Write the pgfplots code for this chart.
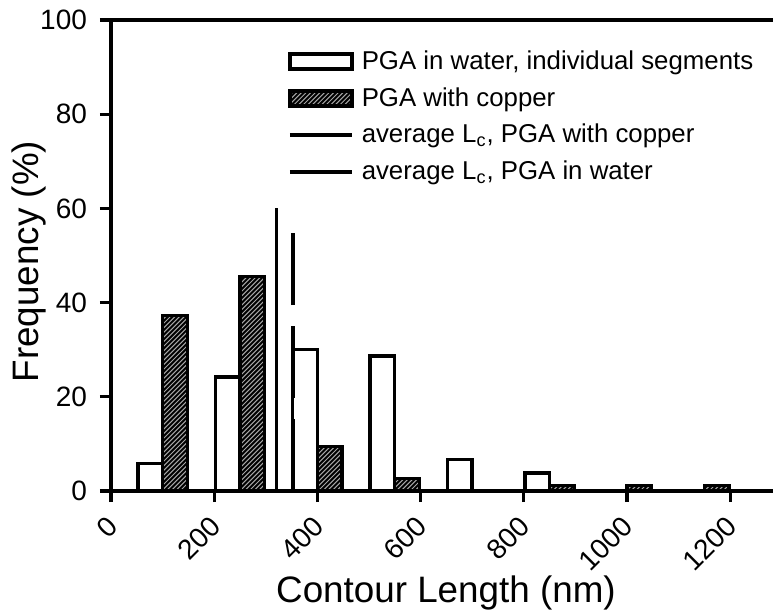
\documentclass[border=0pt]{standalone}
\usepackage{pgfplots}
\pgfplotsset{compat=1.18}
\usepackage{fontspec}
\setmainfont{Liberation Sans}

\tikzset{
  % diagonal hatching over the lower part of the axis, clipped to the bars
  hatch/.style={path picture={
    \foreach \k in {0,...,195} {
      \draw[path picture={}, draw=gray!70, fill=none, line width=0.5pt, solid]
        ([xshift={\k*2.3pt-115pt}]rel axis cs:0,0) -- ++(120pt,120pt);
    }}},
  hatchlegend/.style={path picture={
    \foreach \k in {0,...,20} {
      \draw[path picture={}, draw=gray!70, fill=none, line width=0.5pt, solid]
        ([xshift={\k*2.3pt-10pt}]path picture bounding box.south west) -- ++(12pt,12pt);
    }}},
}

\begin{document}
\begin{tikzpicture}
\begin{axis}[
    name=ax,
    scale only axis,
    width=331pt, height=235.5pt,
    xmin=0, xmax=1283,
    ymin=0, ymax=100,
    axis x line=box, axis y line=left,
    axis line style={-, line width=2pt},
    xtick={0,200,...,1200},
    ytick={0,20,...,100},
    xtick pos=bottom, ytick pos=left,
    tick align=outside,
    major tick length=5.5pt,
    every tick/.style={black, line width=1.6pt},
    /pgf/number format/assume math mode=true,
    /pgf/number format/1000 sep={},
    tick label style={font=\fontsize{14}{16}\selectfont},
    xticklabel style={rotate=45, anchor=north east, inner sep=1pt, xshift=-5.3pt, yshift=-1.2pt},
    yticklabel style={xshift=-3pt},
    xlabel={Contour Length (nm)},
    ylabel={Frequency (\%)},
    label style={font=\fontsize{18.4}{21}\selectfont},
    xlabel style={at={(axis description cs:0.506,-0.2155)}, anchor=center},
    ylabel style={at={(axis description cs:-0.1246,0.487)}, anchor=center},
    legend style={draw=none, fill=none, at={(axis description cs:0.267,0.944)},
        anchor=north west, font=\fontsize{12.9}{15}\selectfont,
        row sep=3.5pt, inner sep=0pt},
    legend cell align=left,
]

% PGA in water, individual segments
\addplot[ybar, bar width=48, bar shift=-24, fill=white, draw=black, line width=1.7pt,
    legend image code/.code={
        \draw[fill=white, draw=black, line width=1.7pt] (0pt,-3.75pt) rectangle (31pt,3.75pt);
        \path (33pt,0pt);}]
    coordinates {
    (100,5.8) (250,24.2) (400,30.1) (550,28.7) (700,6.7) (850,3.8)
    };
\addlegendentry{PGA in water, individual segments}

% PGA with copper
\addplot[ybar, bar width=48, bar shift=24, fill=black, draw=black, line width=1.7pt, hatch,
    legend image code/.code={
        \draw[fill=black, draw=black, line width=1.7pt, hatchlegend] (0pt,-3.75pt) rectangle (31pt,3.75pt);
        \path (33pt,0pt);}]
    coordinates {
    (100,37.3) (250,45.6) (400,9.4) (550,2.6) (850,1.2) (1000,1.2) (1150,1.2)
    };
\addlegendentry{PGA with copper}

% average contour lengths
\addplot[black, line width=1.8pt,
    legend image code/.code={\draw[black, line width=1.8pt] (0pt,0pt) -- (31pt,0pt); \path (33pt,0pt);}]
    coordinates {(321,0) (321,60)};
\addlegendentry{average L\textsubscript{c}, PGA with copper}

\addplot[black, line width=1.8pt, dash pattern=on 36pt off 10.5pt,
    legend image code/.code={\draw[black, line width=1.8pt] (0pt,0pt) -- (31pt,0pt); \path (33pt,0pt);}]
    coordinates {(353,0) (353,55)};
\addlegendentry{average L\textsubscript{c}, PGA in water}

\end{axis}
\pgfresetboundingbox
\path[use as bounding box] ([xshift=-55.5pt,yshift=-60.5pt]ax.south west) rectangle ([yshift=10pt]ax.north east);
\end{tikzpicture}
\end{document}
